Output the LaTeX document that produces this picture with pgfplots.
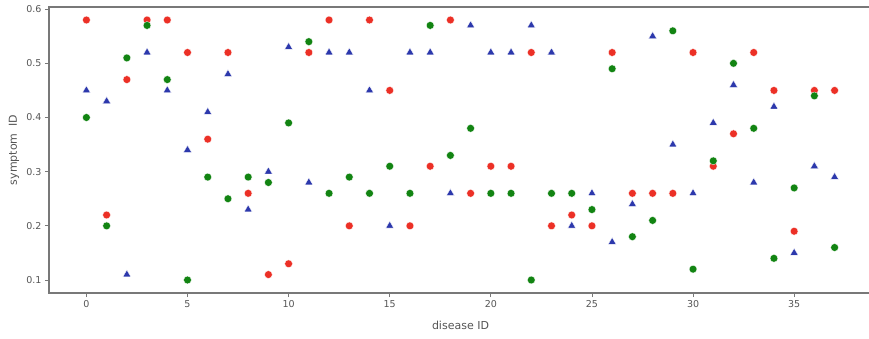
\documentclass[border=0pt]{standalone}
\usepackage{pgfplots}
\pgfplotsset{compat=1.18}
\usepackage{pgfplotstable}
\usepackage{fontspec}
\setmainfont{DejaVu Sans}
\definecolor{mred}{RGB}{236,48,38}
\definecolor{mgreen}{RGB}{18,132,18}
\definecolor{mblue}{RGB}{44,56,172}
\definecolor{spine}{RGB}{120,120,120}
\definecolor{ticktext}{RGB}{85,85,85}
\pgfplotstableread{
x r g b
0 0.58 0.40 0.45
1 0.22 0.20 0.43
2 0.47 0.51 0.11
3 0.58 0.57 0.52
4 0.58 0.47 0.45
5 0.52 0.10 0.34
6 0.36 0.29 0.41
7 0.52 0.25 0.48
8 0.26 0.29 0.23
9 0.11 0.28 0.30
10 0.13 0.39 0.53
11 0.52 0.54 0.28
12 0.58 0.26 0.52
13 0.20 0.29 0.52
14 0.58 0.26 0.45
15 0.45 0.31 0.20
16 0.20 0.26 0.52
17 0.31 0.57 0.52
18 0.58 0.33 0.26
19 0.26 0.38 0.57
20 0.31 0.26 0.52
21 0.31 0.26 0.52
22 0.52 0.10 0.57
23 0.20 0.26 0.52
24 0.22 0.26 0.20
25 0.20 0.23 0.26
26 0.52 0.49 0.17
27 0.26 0.18 0.24
28 0.26 0.21 0.55
29 0.26 0.56 0.35
30 0.52 0.12 0.26
31 0.31 0.32 0.39
32 0.37 0.50 0.46
33 0.52 0.38 0.28
34 0.45 0.14 0.42
35 0.19 0.27 0.15
36 0.45 0.44 0.31
37 0.45 0.16 0.29
}\datatable
\begin{document}
\begin{tikzpicture}
\begin{axis}[
  scale only axis,
  width=823pt, height=286pt,
  xmin=-1.85, xmax=38.85,
  ymin=0.076, ymax=0.604,
  xtick={0,5,...,35},
  ytick={0.1,0.2,0.3,0.4,0.5,0.6},
  tick pos=left,
  tick align=outside,
  major tick length=4pt,
  tick style={draw=spine, line width=0.8pt},
  axis line style={draw=spine, line width=1.2pt},
  /pgf/number format/assume math mode=true,
  yticklabel style={/pgf/number format/fixed, /pgf/number format/precision=1},
  ticklabel style={font=\fontsize{9.5}{11}\selectfont, text=ticktext},
  every axis y label/.style={at={(axis description cs:-0.0425,0.5)}, rotate=90, anchor=center},
  every axis x label/.style={at={(axis description cs:0.5,-0.115)}, anchor=center},
  label style={font=\fontsize{11}{13}\selectfont, text=ticktext},
  xlabel={disease ID},
  ylabel={symptom\ \ ID},
  clip=false,
]
\addplot[only marks, mark=*, mark size=3.9pt, mark options={draw=white, fill=mred, line width=0.3pt}] table[x=x, y=r] {\datatable};
\addplot[only marks, mark=*, mark size=3.9pt, mark options={draw=white, fill=mgreen, line width=0.3pt}] table[x=x, y=g] {\datatable};
\addplot[only marks, mark=triangle*, mark size=4.6pt, mark options={draw=white, fill=mblue, line width=0.3pt}] table[x=x, y=b] {\datatable};
\end{axis}
\pgfresetboundingbox
\path[use as bounding box] (current axis.south west) ++(-49pt,-45pt) rectangle ++(869pt,338pt);
\end{tikzpicture}
\end{document}
